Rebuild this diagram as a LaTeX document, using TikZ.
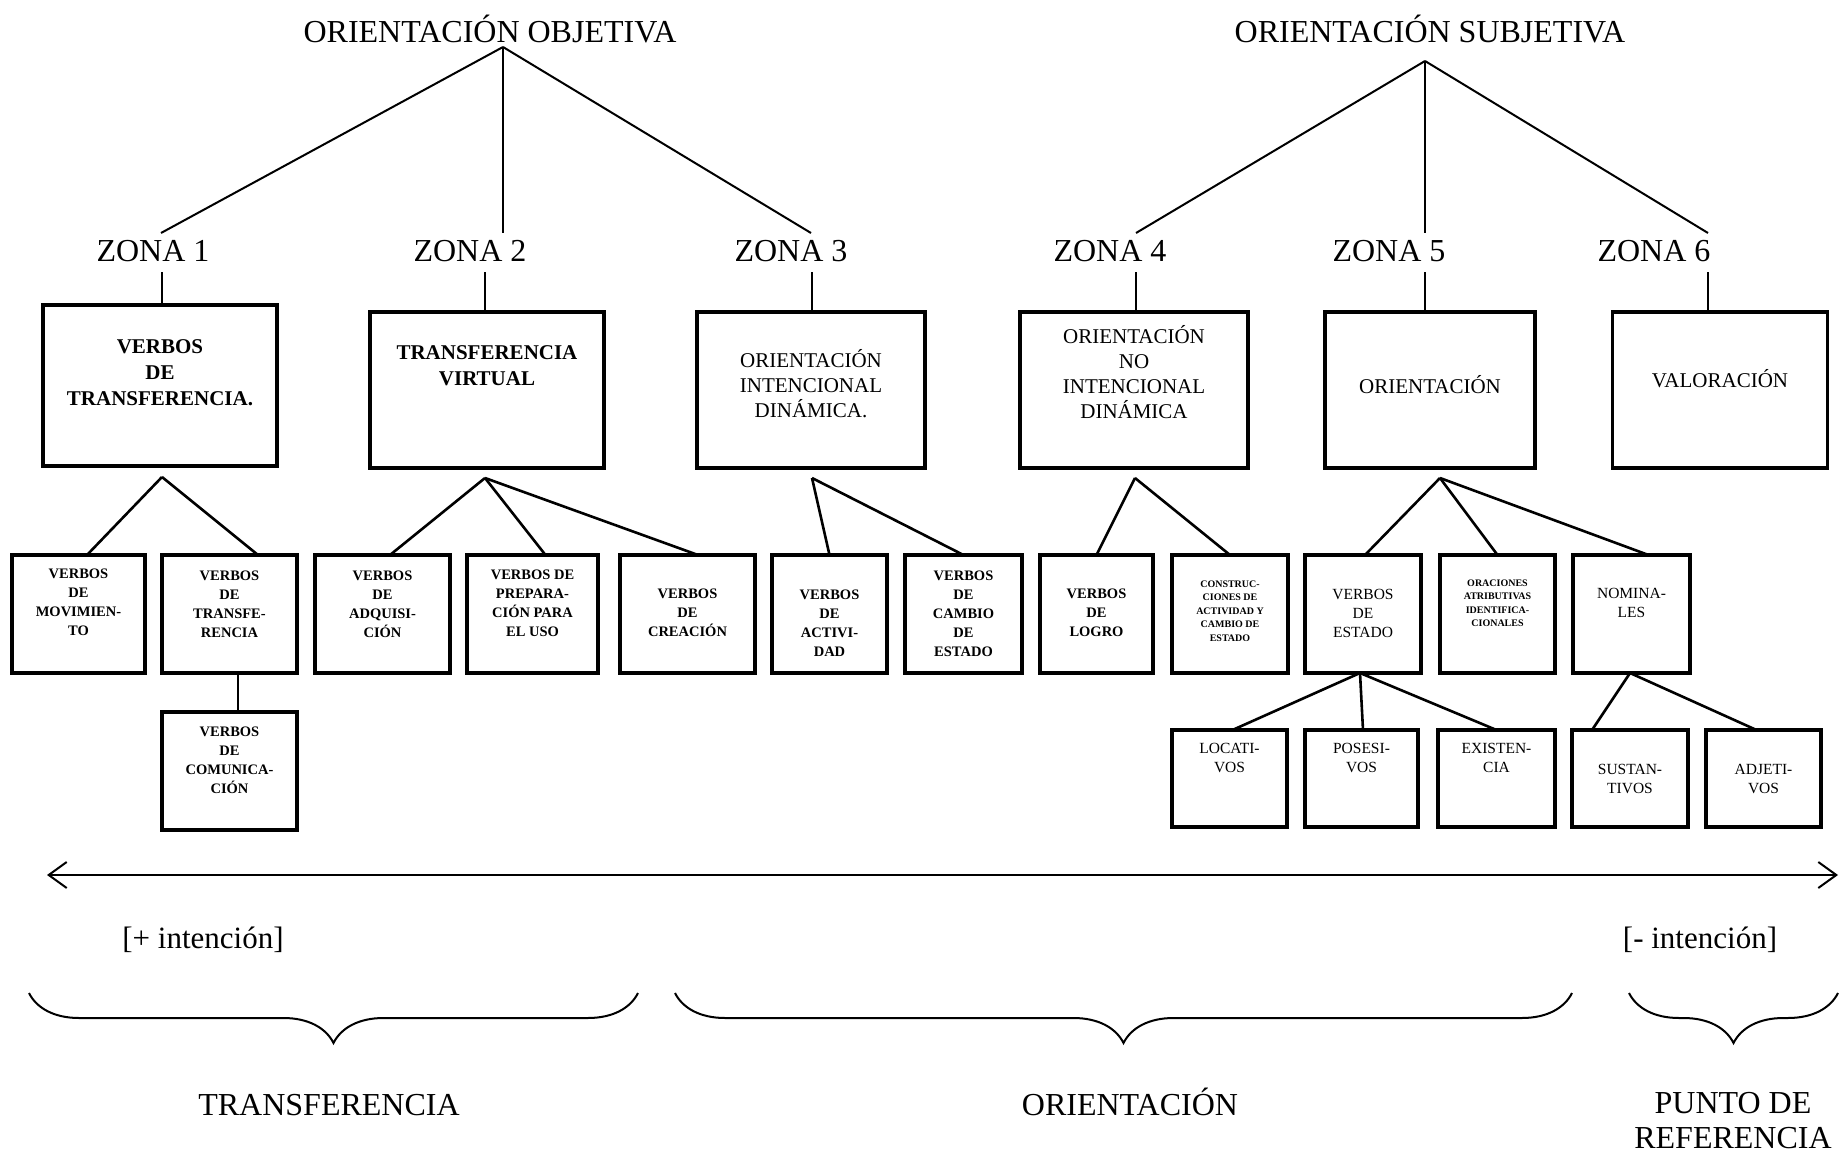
\documentclass[tikz,border=0pt]{standalone}
\usepackage{fontspec}
\setmainfont{Liberation Serif}
\usetikzlibrary{arrows.meta,decorations.pathreplacing}

\tikzset{
  titulo/.style={inner sep=0pt, font=\fontsize{32}{35}\selectfont},
  caja/.style={draw, line width=3.2pt, inner sep=0pt, outer sep=0pt},
  fila/.style={caja, minimum height=118pt},
  bajo/.style={caja, minimum height=97pt},
  grande/.style={align=center, inner sep=0pt, font=\fontsize{21}{25}\selectfont},
  grandeb/.style={align=center, inner sep=0pt, font=\bfseries\fontsize{21}{26}\selectfont},
  chica/.style={align=center, inner sep=0pt, font=\fontsize{15.5}{19}\selectfont},
  chicab/.style={align=center, inner sep=0pt, font=\bfseries\fontsize{14.5}{19}\selectfont},
  mini/.style={align=center, inner sep=0pt, font=\bfseries\fontsize{10}{13.5}\selectfont},
  rama/.style={line width=2.6pt},
  linea/.style={line width=2pt},
  llave/.style={decorate, decoration={brace, mirror, amplitude=50pt}, line width=2pt},
}

\begin{document}
\begin{tikzpicture}[x=1pt,y=-1pt]
\useasboundingbox (0,0) rectangle (1842,1156);

% titulos y zonas
\node[titulo] at (490,29) (objetiva) {ORIENTACIÓN OBJETIVA};
\node[titulo] at (1430,29) (subjetiva) {ORIENTACIÓN SUBJETIVA};
\coordinate (objpie) at (503,47);
\coordinate (subpie) at (1425,61);

\node[titulo] at (153,251) (zona1) {ZONA 1};
\node[titulo] at (470,251) (zona2) {ZONA 2};
\node[titulo] at (791,251) (zona3) {ZONA 3};
\node[titulo] at (1110,251) (zona4) {ZONA 4};
\node[titulo] at (1389,251) (zona5) {ZONA 5};
\node[titulo] at (1654,251) (zona6) {ZONA 6};

\coordinate (zona1arr) at (161,233);
\coordinate (zona2arr) at (503,233);
\coordinate (zona3arr) at (811,233);
\coordinate (zona4arr) at (1136,233);
\coordinate (zona5arr) at (1425,233);
\coordinate (zona6arr) at (1708,233);
\coordinate (zona1ab) at (162,272);
\coordinate (zona2ab) at (485,272);
\coordinate (zona3ab) at (812,272);
\coordinate (zona4ab) at (1136,272);
\coordinate (zona5ab) at (1425,272);
\coordinate (zona6ab) at (1708,272);

\draw[linea] (objpie) -- (zona1arr);
\draw[linea] (objpie) -- (zona2arr);
\draw[linea] (objpie) -- (zona3arr);
\draw[linea] (subpie) -- (zona4arr);
\draw[linea] (subpie) -- (zona5arr);
\draw[linea] (subpie) -- (zona6arr);

% cajas grandes
\node[caja, minimum width=234pt, minimum height=161pt] at (160,385.5) (z1) {};
\node[grandeb] at (160,373) (z1t) {VERBOS\\DE\\TRANSFERENCIA.};
\node[caja, minimum width=234pt, minimum height=156pt] at (487,390) (z2) {};
\node[grandeb] at (487,366) (z2t) {TRANSFERENCIA\\VIRTUAL};
\node[caja, minimum width=228pt, minimum height=156pt] at (811,390) (z3) {};
\node[grande] at (811,384) (z3t) {ORIENTACIÓN\\INTENCIONAL\\DINÁMICA.};
\node[caja, minimum width=228pt, minimum height=156pt] at (1134,390) (z4) {};
\node[grande] at (1134,372) (z4t) {ORIENTACIÓN\\NO\\INTENCIONAL\\DINÁMICA};
\node[caja, minimum width=210pt, minimum height=156pt] at (1430,390) (z5) {};
\node[grande] at (1430,385) (z5t) {ORIENTACIÓN};
\node[caja, minimum width=215pt, minimum height=156pt] at (1720,390) (z6) {};
\node[grande] at (1720,379) (z6t) {VALORACIÓN};

\draw[linea] (zona1ab) -- (zona1ab |- z1.north);
\draw[linea] (zona2ab) -- (zona2ab |- z2.north);
\draw[linea] (zona3ab) -- (zona3ab |- z3.north);
\draw[linea] (zona4ab) -- (zona4ab |- z4.north);
\draw[linea] (zona5ab) -- (zona5ab |- z5.north);
\draw[linea] (zona6ab) -- (zona6ab |- z6.north);

% primera fila de cajas
\node[fila, minimum width=133pt] at (78.5,614) (a1) {};
\node[chicab] at (78.5,602) (a1t) {VERBOS\\DE\\MOVIMIEN-\\TO};
\node[fila, minimum width=135pt] at (229.5,614) (a2) {};
\node[chicab] at (229.5,604) (a2t) {VERBOS\\DE\\TRANSFE-\\RENCIA};
\node[fila, minimum width=135pt] at (382.5,614) (b1) {};
\node[chicab] at (382.5,604) (b1t) {VERBOS\\DE\\ADQUISI-\\CIÓN};
\node[fila, minimum width=131pt] at (532.5,614) (b2) {};
\node[chicab] at (532.5,603) (b2t) {VERBOS DE\\PREPARA-\\CIÓN PARA\\EL USO};
\node[fila, minimum width=135pt] at (687.5,614) (b3) {};
\node[chicab] at (687.5,613) (b3t) {VERBOS\\DE\\CREACIÓN};
\node[fila, minimum width=115pt] at (829.5,614) (c1) {};
\node[chicab] at (829.5,623) (c1t) {VERBOS\\DE\\ACTIVI-\\DAD};
\node[fila, minimum width=117pt] at (963.5,614) (c2) {};
\node[chicab] at (963.5,614) (c2t) {VERBOS\\DE\\CAMBIO\\DE\\ESTADO};
\node[fila, minimum width=113pt] at (1096.5,614) (d1) {};
\node[chicab] at (1096.5,613) (d1t) {VERBOS\\DE\\LOGRO};
\node[fila, minimum width=116pt] at (1230,614) (d2) {};
\node[mini] at (1230,611) (d2t) {CONSTRUC-\\CIONES DE\\ACTIVIDAD Y\\CAMBIO DE\\ESTADO};
\node[fila, minimum width=116pt] at (1363,614) (e1) {};
\node[chica] at (1363,613) (e1t) {VERBOS\\DE\\ESTADO};
\node[fila, minimum width=115pt] at (1497.5,614) (e2) {};
\node[mini] at (1497.5,603) (e2t) {ORACIONES\\ATRIBUTIVAS\\IDENTIFICA-\\CIONALES};
\node[fila, minimum width=117pt] at (1631.5,614) (e3) {};
\node[chica] at (1631.5,603) (e3t) {NOMINA-\\LES};

% segunda fila
\node[fila, minimum width=135pt] at (229.5,771) (a3) {};
\node[chicab] at (229.5,760) (a3t) {VERBOS\\DE\\COMUNICA-\\CIÓN};
\node[bajo, minimum width=115pt] at (1229.5,778.5) (f1) {};
\node[chica] at (1229.5,758) (f1t) {LOCATI-\\VOS};
\node[bajo, minimum width=113pt] at (1361.5,778.5) (f2) {};
\node[chica] at (1361.5,758) (f2t) {POSESI-\\VOS};
\node[bajo, minimum width=117pt] at (1496.5,778.5) (f3) {};
\node[chica] at (1496.5,758) (f3t) {EXISTEN-\\CIA};
\node[bajo, minimum width=116pt] at (1630,778.5) (g1) {};
\node[chica] at (1630,778.5) (g1t) {SUSTAN-\\TIVOS};
\node[bajo, minimum width=115pt] at (1763.5,778.5) (g2) {};
\node[chica] at (1763.5,778.5) (g2t) {ADJETI-\\VOS};

% ramas
\coordinate (z1pie) at (162,477);
\coordinate (z2pie) at (485,478);
\coordinate (z3pie) at (812,478);
\coordinate (z4pie) at (1135,478);
\coordinate (z5pie) at (1440,478);
\coordinate (e1pie) at (1360,673);
\coordinate (e3pie) at (1630,673);

\draw[rama] (z1pie) -- ([xshift=8.5pt]a1.north);
\draw[rama] (z1pie) -- ([xshift=28.5pt]a2.north);
\draw[rama] (z2pie) -- ([xshift=7.5pt]b1.north);
\draw[rama] (z2pie) -- ([xshift=13pt]b2.north);
\draw[rama] (z2pie) -- ([xshift=10.5pt]b3.north);
\draw[rama] (z3pie) -- (c1.north);
\draw[rama] (z3pie) -- (c2.north);
\draw[rama] (z4pie) -- (d1.north);
\draw[rama] (z4pie) -- (d2.north);
\draw[rama] (z5pie) -- ([xshift=2pt]e1.north);
\draw[rama] (z5pie) -- (e2.north);
\draw[rama] (z5pie) -- ([xshift=17pt]e3.north);
\draw[rama] ([xshift=8.5pt]a2.south) -- ([xshift=8.5pt]a3.north);
\draw[rama] (e1pie) -- ([xshift=3pt]f1.north);
\draw[rama] (e1pie) -- ([xshift=1.5pt]f2.north);
\draw[rama] (e1pie) -- (f3.north);
\draw[rama] (e3pie) -- ([xshift=-38pt]g1.north);
\draw[rama] (e3pie) -- ([xshift=-7pt]g2.north);

% eje de intencion
\coordinate (izq) at (47,875);
\coordinate (der) at (1838,875);
\draw[linea, {Straight Barb[length=18pt,width=26pt]}-{Straight Barb[length=18pt,width=26pt]}] (izq) -- (der);
\node[titulo, font=\fontsize{31}{35}\selectfont] at (203,940) (masint) {[+ intención]};
\node[titulo, font=\fontsize{31}{35}\selectfont] at (1700,940) (menosint) {[- intención]};

% llaves
\draw[llave] (29,993) -- (638,993);
\draw[llave] (675,993) -- (1572,993);
\draw[llave] (1629,993) -- (1838,993);

\node[titulo, anchor=base] at (329,1115) (transf) {TRANSFERENCIA};
\node[titulo, anchor=base] at (1130,1115) (orient) {ORIENTACIÓN};
\node[titulo, align=center] at (1733,1121) (punto) {PUNTO DE\\REFERENCIA};
\end{tikzpicture}
\end{document}
